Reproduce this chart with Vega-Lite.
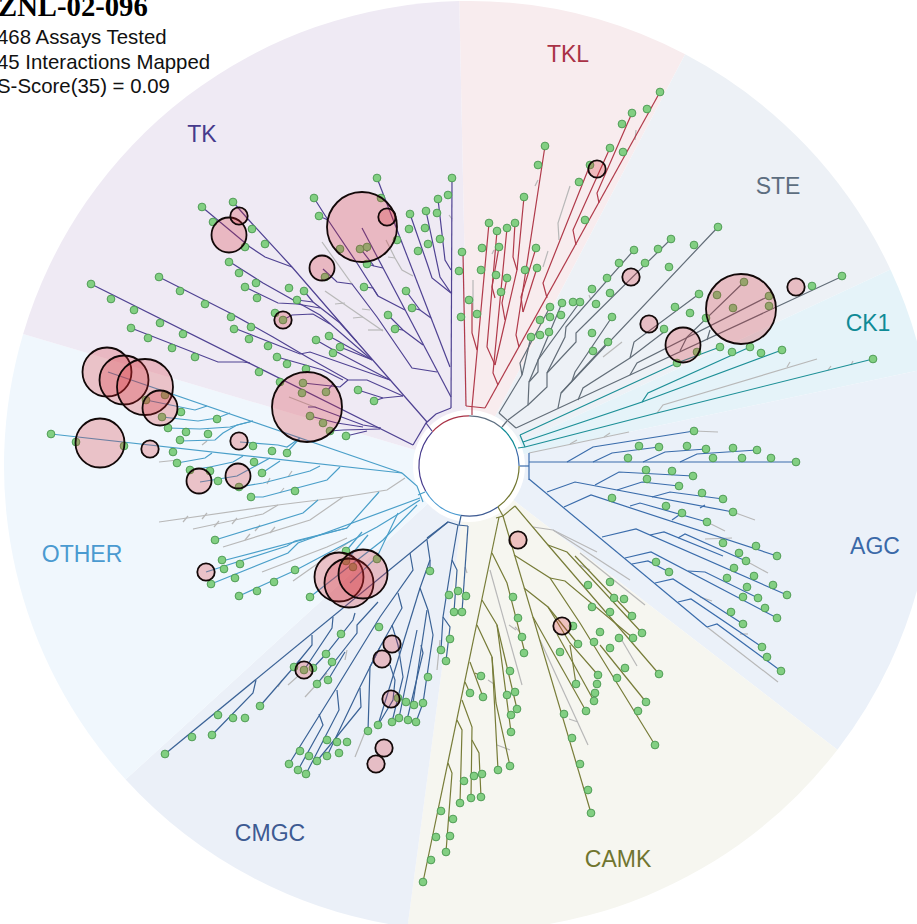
{"$schema":"https://vega.github.io/schema/vega-lite/v6.json","width":917,"height":924,"padding":0,"autosize":{"type":"none"},"background":"white","config":{"view":{"stroke":null},"font":"Liberation Sans"},
"encoding":{"x":{"field":"x","type":"quantitative","axis":null,"scale":{"domain":[0,917],"nice":false,"zero":false}},"y":{"field":"y","type":"quantitative","axis":null,"scale":{"domain":[924,0],"nice":false,"zero":false}}},
"datasets":{
"sectors":[{"x":469,"y":466,"f":"TKL","a0":-1.2,"a1":27.7},{"x":469,"y":466,"f":"STE","a0":27.7,"a1":65},{"x":469,"y":466,"f":"CK1","a0":65,"a1":78},{"x":469,"y":466,"f":"AGC","a0":78,"a1":127.6},{"x":469,"y":466,"f":"CAMK","a0":127.6,"a1":187.6},{"x":469,"y":466,"f":"CMGC","a0":187.6,"a1":227.6},{"x":469,"y":466,"f":"OTHER","a0":227.6,"a1":286.5},{"x":469,"y":466,"f":"TK","a0":286.5,"a1":358.8}],
"ring":[{"x":469,"y":466,"f":"TKL","a0":313,"a1":360},{"x":469,"y":466,"f":"STE","a0":0,"a1":39},{"x":469,"y":466,"f":"CK1","a0":39,"a1":70},{"x":469,"y":466,"f":"AGC","a0":70,"a1":90},{"x":469,"y":466,"f":"CAMK","a0":90,"a1":145},{"x":469,"y":466,"f":"CMGC","a0":145,"a1":189.5},{"x":469,"y":466,"f":"OTHER","a0":189.5,"a1":240},{"x":469,"y":466,"f":"TK","a0":240,"a1":313}],
"labels":[{"x":202,"y":135,"f":"TK","t":"TK"},{"x":568,"y":55,"f":"TKL","t":"TKL"},{"x":778,"y":187,"f":"STE","t":"STE"},{"x":868,"y":324,"f":"CK1","t":"CK1"},{"x":875,"y":547,"f":"AGC","t":"AGC"},{"x":618,"y":860,"f":"CAMK","t":"CAMK"},{"x":270,"y":834,"f":"CMGC","t":"CMGC"},{"x":82,"y":555,"f":"OTHER","t":"OTHER"}],
"header":[{"x":-3,"y":44,"t":"468 Assays Tested"},{"x":-3,"y":68.5,"t":"45 Interactions Mapped"},{"x":-3,"y":93,"t":"S-Score(35) = 0.09"}],
"title":[{"x":-2,"y":16,"t":"ZNL-02-096"}],
"hits":[{"x":362,"y":227,"c":"a"},{"x":387,"y":217,"c":"e"},{"x":322,"y":268,"c":"d"},{"x":283,"y":320,"c":"e"},{"x":307,"y":407,"c":"a"},{"x":229,"y":235,"c":"c"},{"x":239,"y":216,"c":"e"},{"x":107,"y":372,"c":"b"},{"x":124,"y":380,"c":"b"},{"x":145,"y":387,"c":"f"},{"x":160,"y":408,"c":"c"},{"x":100,"y":443,"c":"b"},{"x":150,"y":449,"c":"e"},{"x":239,"y":441,"c":"e"},{"x":199,"y":481,"c":"d"},{"x":238,"y":476,"c":"d"},{"x":206,"y":572,"c":"e"},{"x":339,"y":577,"c":"b"},{"x":349,"y":583,"c":"b"},{"x":363,"y":574,"c":"b"},{"x":304,"y":670,"c":"e"},{"x":392,"y":644,"c":"e"},{"x":382,"y":659,"c":"e"},{"x":391,"y":699,"c":"e"},{"x":384,"y":748,"c":"e"},{"x":376,"y":764,"c":"e"},{"x":518,"y":540,"c":"e"},{"x":562,"y":626,"c":"e"},{"x":631,"y":277,"c":"e"},{"x":649,"y":324,"c":"e"},{"x":683,"y":345,"c":"c"},{"x":741,"y":309,"c":"a"},{"x":796,"y":287,"c":"e"},{"x":597,"y":169,"c":"e"}],
"dots":[{"x":91,"y":284},{"x":111,"y":299},{"x":134,"y":310},{"x":160,"y":323},{"x":183,"y":334},{"x":131,"y":328},{"x":148,"y":338},{"x":172,"y":348},{"x":195,"y":357},{"x":159,"y":277},{"x":180,"y":291},{"x":205,"y":304},{"x":231,"y":317},{"x":234,"y":329},{"x":249,"y":339},{"x":251,"y":327},{"x":268,"y":346},{"x":277,"y":357},{"x":287,"y":364},{"x":306,"y":369},{"x":259,"y":372},{"x":280,"y":382},{"x":303,"y":383},{"x":326,"y":392},{"x":302,"y":393},{"x":310,"y":416},{"x":323,"y":423},{"x":330,"y":431},{"x":346,"y":436},{"x":358,"y":390},{"x":374,"y":401},{"x":229,"y":262},{"x":239,"y":273},{"x":245,"y":287},{"x":256,"y":283},{"x":257,"y":298},{"x":275,"y":313},{"x":283,"y":320},{"x":289,"y":288},{"x":304,"y":291},{"x":297,"y":300},{"x":202,"y":207},{"x":233,"y":202},{"x":213,"y":222},{"x":252,"y":229},{"x":265,"y":244},{"x":245,"y":247},{"x":314,"y":198},{"x":319,"y":216},{"x":377,"y":178},{"x":381,"y":198},{"x":397,"y":240},{"x":360,"y":249},{"x":367,"y":247},{"x":367,"y":264},{"x":340,"y":249},{"x":325,"y":277},{"x":364,"y":287},{"x":388,"y":315},{"x":395,"y":329},{"x":406,"y":291},{"x":412,"y":308},{"x":329,"y":336},{"x":316,"y":340},{"x":333,"y":353},{"x":340,"y":347},{"x":410,"y":214},{"x":409,"y":229},{"x":418,"y":251},{"x":426,"y":211},{"x":425,"y":228},{"x":428,"y":244},{"x":437,"y":213},{"x":438,"y":199},{"x":440,"y":239},{"x":448,"y":195},{"x":452,"y":178},
{"x":165,"y":395},{"x":146,"y":400},{"x":162,"y":417},{"x":181,"y":412},{"x":168,"y":428},{"x":186,"y":432},{"x":217,"y":419},{"x":208,"y":434},{"x":180,"y":440},{"x":173,"y":452},{"x":253,"y":446},{"x":272,"y":451},{"x":287,"y":453},{"x":177,"y":463},{"x":190,"y":470},{"x":210,"y":471},{"x":218,"y":481},{"x":239,"y":487},{"x":254,"y":462},{"x":262,"y":473},{"x":251,"y":497},{"x":295,"y":491},{"x":51,"y":434},{"x":76,"y":442},{"x":124,"y":446},{"x":215,"y":540},{"x":222,"y":560},{"x":224,"y":569},{"x":240,"y":564},{"x":211,"y":584},{"x":235,"y":578},{"x":239,"y":596},{"x":257,"y":591},{"x":274,"y":582},{"x":295,"y":570},{"x":310,"y":597},{"x":346,"y":551},{"x":346,"y":561},{"x":353,"y":567},{"x":377,"y":559},
{"x":165,"y":754},{"x":192,"y":737},{"x":218,"y":715},{"x":212,"y":735},{"x":233,"y":718},{"x":245,"y":718},{"x":260,"y":706},{"x":294,"y":667},{"x":313,"y":668},{"x":304,"y":670},{"x":326,"y":654},{"x":341,"y":634},{"x":332,"y":662},{"x":317,"y":684},{"x":328,"y":680},{"x":379,"y":627},{"x":289,"y":764},{"x":300,"y":751},{"x":298,"y":770},{"x":306,"y":774},{"x":309,"y":756},{"x":317,"y":761},{"x":327,"y":740},{"x":327,"y":756},{"x":337,"y":742},{"x":339,"y":753},{"x":347,"y":742},{"x":368,"y":731},{"x":378,"y":725},{"x":392,"y":722},{"x":399,"y":718},{"x":408,"y":720},{"x":416,"y":722},{"x":398,"y":698},{"x":406,"y":702},{"x":414,"y":705},{"x":423,"y":703},{"x":428,"y":677},{"x":430,"y":571},{"x":449,"y":595},{"x":458,"y":591},{"x":466,"y":596},{"x":454,"y":612},{"x":462,"y":612},{"x":450,"y":639},{"x":441,"y":650},{"x":446,"y":661},
{"x":423,"y":882},{"x":431,"y":860},{"x":436,"y":837},{"x":441,"y":811},{"x":446,"y":852},{"x":450,"y":836},{"x":453,"y":819},{"x":460,"y":803},{"x":464,"y":781},{"x":471,"y":798},{"x":474,"y":776},{"x":481,"y":797},{"x":482,"y":774},{"x":470,"y":693},{"x":483,"y":697},{"x":481,"y":676},{"x":498,"y":770},{"x":510,"y":766},{"x":511,"y":732},{"x":507,"y":695},{"x":511,"y":715},{"x":515,"y":692},{"x":517,"y":709},{"x":510,"y":671},{"x":513,"y":597},{"x":518,"y":618},{"x":522,"y":637},{"x":524,"y":653},{"x":591,"y":813},{"x":588,"y":790},{"x":580,"y":764},{"x":572,"y":738},{"x":564,"y":714},{"x":560,"y":652},{"x":655,"y":745},{"x":638,"y":711},{"x":617,"y":678},{"x":646,"y":702},{"x":625,"y":668},{"x":598,"y":675},{"x":597,"y":684},{"x":595,"y":693},{"x":594,"y":701},{"x":586,"y":711},{"x":576,"y":684},{"x":578,"y":644},{"x":573,"y":626},{"x":659,"y":674},{"x":642,"y":633},{"x":632,"y":616},{"x":624,"y":599},{"x":610,"y":582},{"x":614,"y":598},{"x":588,"y":585},{"x":592,"y":607},{"x":610,"y":612},{"x":600,"y":632},{"x":619,"y":638},{"x":633,"y":638},{"x":594,"y":642},{"x":610,"y":648},
{"x":796,"y":462},{"x":771,"y":458},{"x":742,"y":458},{"x":713,"y":458},{"x":757,"y":450},{"x":733,"y":448},{"x":706,"y":449},{"x":687,"y":446},{"x":694,"y":431},{"x":659,"y":447},{"x":639,"y":446},{"x":628,"y":458},{"x":646,"y":470},{"x":672,"y":471},{"x":693,"y":476},{"x":647,"y":479},{"x":679,"y":486},{"x":702,"y":493},{"x":723,"y":499},{"x":733,"y":512},{"x":612,"y":498},{"x":666,"y":506},{"x":682,"y":513},{"x":707,"y":522},{"x":777,"y":556},{"x":756,"y":546},{"x":723,"y":543},{"x":739,"y":553},{"x":746,"y":561},{"x":734,"y":568},{"x":754,"y":576},{"x":773,"y":585},{"x":787,"y":595},{"x":727,"y":578},{"x":747,"y":587},{"x":743,"y":597},{"x":758,"y":598},{"x":765,"y":608},{"x":777,"y":618},{"x":656,"y":562},{"x":669,"y":572},{"x":731,"y":612},{"x":743,"y":624},{"x":762,"y":647},{"x":767,"y":657},{"x":781,"y":671},
{"x":720,"y":347},{"x":677,"y":363},{"x":697,"y":352},{"x":750,"y":347},{"x":732,"y":352},{"x":782,"y":350},{"x":761,"y":353},{"x":873,"y":359},
{"x":531,"y":337},{"x":540,"y":335},{"x":549,"y":332},{"x":540,"y":320},{"x":550,"y":317},{"x":561,"y":315},{"x":550,"y":307},{"x":562,"y":303},{"x":573,"y":302},{"x":580,"y":302},{"x":592,"y":289},{"x":607,"y":278},{"x":619,"y":263},{"x":634,"y":250},{"x":596,"y":304},{"x":610,"y":293},{"x":645,"y":263},{"x":658,"y":249},{"x":671,"y":239},{"x":694,"y":245},{"x":718,"y":227},{"x":669,"y":267},{"x":612,"y":317},{"x":592,"y":333},{"x":593,"y":351},{"x":608,"y":342},{"x":699,"y":294},{"x":675,"y":307},{"x":690,"y":313},{"x":664,"y":329},{"x":706,"y":318},{"x":717,"y":295},{"x":744,"y":282},{"x":733,"y":308},{"x":769,"y":296},{"x":769,"y":306},{"x":812,"y":286},{"x":842,"y":276},
{"x":660,"y":92},{"x":647,"y":109},{"x":632,"y":113},{"x":622,"y":124},{"x":610,"y":148},{"x":623,"y":152},{"x":590,"y":165},{"x":579,"y":182},{"x":585,"y":220},{"x":545,"y":146},{"x":538,"y":165},{"x":524,"y":197},{"x":515,"y":223},{"x":489,"y":223},{"x":497,"y":231},{"x":507,"y":228},{"x":482,"y":248},{"x":499,"y":247},{"x":536,"y":248},{"x":537,"y":268},{"x":525,"y":270},{"x":507,"y":278},{"x":496,"y":275},{"x":481,"y":270},{"x":462,"y":252},{"x":459,"y":271},{"x":501,"y":292},{"x":469,"y":300},{"x":477,"y":314},{"x":461,"y":317}],
"branches":[
{"f":"G","p":1,"x":352,"y":284},{"f":"G","p":1,"x":322,"y":242},
{"f":"G","p":2,"x":325,"y":291},{"f":"G","p":2,"x":383,"y":331},{"f":"G","p":3,"x":353,"y":318},{"f":"G","p":3,"x":363,"y":317},{"f":"G","p":4,"x":335,"y":304},{"f":"G","p":4,"x":345,"y":303},{"f":"G","p":5,"x":368,"y":330},{"f":"G","p":5,"x":383,"y":330},{"f":"G","p":6,"x":362,"y":309},{"f":"G","p":6,"x":370,"y":310},
{"f":"G","p":7,"x":386,"y":240},{"f":"G","p":7,"x":395,"y":258},{"f":"G","p":7,"x":402,"y":270},{"f":"G","p":7,"x":413,"y":276},{"f":"G","p":8,"x":388,"y":257},{"f":"G","p":8,"x":395,"y":258},{"f":"G","p":9,"x":449,"y":215},{"f":"G","p":9,"x":452,"y":219},{"f":"G","p":10,"x":289,"y":397},{"f":"G","p":10,"x":317,"y":408},
{"f":"G","p":11,"x":405,"y":478},{"f":"G","p":11,"x":387,"y":490},{"f":"G","p":11,"x":343,"y":497},{"f":"G","p":11,"x":278,"y":505},{"f":"G","p":11,"x":159,"y":522},
{"f":"G","p":12,"x":278,"y":505},{"f":"G","p":12,"x":263,"y":514},{"f":"G","p":12,"x":193,"y":529},{"f":"G","p":13,"x":223,"y":547},{"f":"G","p":13,"x":310,"y":520},{"f":"G","p":13,"x":343,"y":497},{"f":"G","p":14,"x":262,"y":572},{"f":"G","p":14,"x":327,"y":547},{"f":"G","p":14,"x":347,"y":538},{"f":"G","p":15,"x":293,"y":581},{"f":"G","p":15,"x":327,"y":557},{"f":"G","p":15,"x":352,"y":540},{"f":"G","p":16,"x":183,"y":522},{"f":"G","p":16,"x":188,"y":516},{"f":"G","p":17,"x":202,"y":519},{"f":"G","p":17,"x":207,"y":513},{"f":"G","p":18,"x":232,"y":524},{"f":"G","p":18,"x":237,"y":518},{"f":"G","p":19,"x":214,"y":527},{"f":"G","p":19,"x":219,"y":521},{"f":"G","p":20,"x":255,"y":531},{"f":"G","p":20,"x":260,"y":525},{"f":"G","p":21,"x":245,"y":540},{"f":"G","p":21,"x":250,"y":534},{"f":"G","p":22,"x":270,"y":533},{"f":"G","p":22,"x":275,"y":527},{"f":"G","p":23,"x":202,"y":445},{"f":"G","p":23,"x":207,"y":441},{"f":"G","p":24,"x":178,"y":460},{"f":"G","p":24,"x":159,"y":462},{"f":"G","p":25,"x":267,"y":484},{"f":"G","p":25,"x":270,"y":478},{"f":"G","p":26,"x":280,"y":493},{"f":"G","p":26,"x":284,"y":488},{"f":"G","p":27,"x":288,"y":477},{"f":"G","p":27,"x":292,"y":471},
{"f":"G","p":28,"x":440,"y":640},{"f":"G","p":28,"x":437,"y":670},{"f":"G","p":29,"x":355,"y":757},{"f":"G","p":29,"x":367,"y":727},{"f":"G","p":30,"x":305,"y":697},{"f":"G","p":30,"x":327,"y":673},{"f":"G","p":31,"x":288,"y":685},{"f":"G","p":31,"x":297,"y":677},{"f":"G","p":32,"x":278,"y":687},{"f":"G","p":32,"x":282,"y":680},{"f":"G","p":33,"x":465,"y":567},{"f":"G","p":33,"x":467,"y":573},{"f":"G","p":34,"x":345,"y":660},{"f":"G","p":34,"x":347,"y":650},
{"f":"G","p":35,"x":490,"y":570},{"f":"G","p":35,"x":522,"y":685},{"f":"G","p":36,"x":540,"y":640},{"f":"G","p":36,"x":588,"y":745},{"f":"G","p":37,"x":533,"y":527},{"f":"G","p":37,"x":553,"y":530},{"f":"G","p":37,"x":597,"y":552},{"f":"G","p":38,"x":553,"y":530},{"f":"G","p":38,"x":630,"y":580},{"f":"G","p":39,"x":580,"y":553},{"f":"G","p":39,"x":645,"y":605},{"f":"G","p":40,"x":620,"y":637},{"f":"G","p":40,"x":637,"y":666},{"f":"G","p":41,"x":497,"y":745},{"f":"G","p":41,"x":510,"y":750},{"f":"G","p":42,"x":569,"y":719},{"f":"G","p":42,"x":578,"y":722},{"f":"G","p":43,"x":509,"y":625},{"f":"G","p":43,"x":516,"y":630},{"f":"G","p":44,"x":488,"y":680},{"f":"G","p":44,"x":494,"y":684},{"f":"G","p":45,"x":515,"y":627},{"f":"G","p":45,"x":520,"y":632},{"f":"G","p":46,"x":580,"y":565},{"f":"G","p":46,"x":590,"y":570},
{"f":"G","p":47,"x":529,"y":453},{"f":"G","p":47,"x":629,"y":432},{"f":"G","p":48,"x":570,"y":444},{"f":"G","p":48,"x":577,"y":440},{"f":"G","p":49,"x":604,"y":437},{"f":"G","p":49,"x":610,"y":433},{"f":"G","p":50,"x":694,"y":431},{"f":"G","p":50,"x":718,"y":432},{"f":"G","p":51,"x":733,"y":512},{"f":"G","p":51,"x":755,"y":520},{"f":"G","p":52,"x":707,"y":522},{"f":"G","p":52,"x":725,"y":531},{"f":"G","p":53,"x":746,"y":561},{"f":"G","p":53,"x":768,"y":573},{"f":"G","p":54,"x":707,"y":627},{"f":"G","p":54,"x":778,"y":682},{"f":"G","p":55,"x":705,"y":539},{"f":"G","p":55,"x":732,"y":538},{"f":"G","p":56,"x":700,"y":597},{"f":"G","p":56,"x":712,"y":601},{"f":"G","p":57,"x":740,"y":634},{"f":"G","p":57,"x":748,"y":634},
{"f":"G","p":58,"x":657,"y":413},{"f":"G","p":58,"x":663,"y":405},{"f":"G","p":58,"x":817,"y":359},{"f":"G","p":59,"x":787,"y":367},{"f":"G","p":59,"x":790,"y":362},{"f":"G","p":60,"x":828,"y":370},{"f":"G","p":60,"x":831,"y":366},{"f":"G","p":61,"x":851,"y":365},{"f":"G","p":61,"x":853,"y":361},
{"f":"G","p":62,"x":603,"y":357},{"f":"G","p":62,"x":622,"y":342},{"f":"G","p":63,"x":591,"y":300},{"f":"G","p":63,"x":589,"y":295},
{"f":"G","p":64,"x":473,"y":280},{"f":"G","p":64,"x":473,"y":310},{"f":"G","p":65,"x":559,"y":240},{"f":"G","p":65,"x":558,"y":223},{"f":"G","p":65,"x":570,"y":186},{"f":"G","p":66,"x":543,"y":267},{"f":"G","p":66,"x":548,"y":251},{"f":"G","p":67,"x":636,"y":130},{"f":"G","p":67,"x":635,"y":140},{"f":"G","p":68,"x":535,"y":186},{"f":"G","p":68,"x":538,"y":180},{"f":"G","p":69,"x":492,"y":254},{"f":"G","p":69,"x":494,"y":250},
{"f":"TK","p":100,"x":413,"y":445},{"f":"TK","p":100,"x":426,"y":423},{"f":"TK","p":100,"x":436,"y":414},{"f":"TK","p":100,"x":451,"y":408},{"f":"TK","p":101,"x":426,"y":423},{"f":"TK","p":101,"x":432,"y":431},
{"f":"TK","p":102,"x":451,"y":408},{"f":"TK","p":102,"x":452,"y":178},{"f":"TK","p":103,"x":450,"y":367},{"f":"TK","p":103,"x":377,"y":178},{"f":"TK","p":104,"x":451,"y":397},{"f":"TK","p":104,"x":362,"y":228},
{"f":"TK","p":105,"x":405,"y":310},{"f":"TK","p":105,"x":378,"y":296},{"f":"TK","p":105,"x":357,"y":263},{"f":"TK","p":105,"x":328,"y":220},{"f":"TK","p":105,"x":314,"y":198},{"f":"TK","p":106,"x":328,"y":220},{"f":"TK","p":106,"x":319,"y":216},{"f":"TK","p":107,"x":423,"y":345},{"f":"TK","p":107,"x":403,"y":330},{"f":"TK","p":107,"x":388,"y":315},{"f":"TK","p":108,"x":403,"y":330},{"f":"TK","p":108,"x":395,"y":329},
{"f":"TK","p":109,"x":383,"y":268},{"f":"TK","p":109,"x":374,"y":266},{"f":"TK","p":109,"x":367,"y":264},{"f":"TK","p":110,"x":374,"y":266},{"f":"TK","p":110,"x":363,"y":252},{"f":"TK","p":110,"x":360,"y":249},{"f":"TK","p":111,"x":367,"y":252},{"f":"TK","p":111,"x":367,"y":247},
{"f":"TK","p":112,"x":437,"y":372},{"f":"TK","p":112,"x":412,"y":368},{"f":"TK","p":112,"x":377,"y":317},{"f":"TK","p":112,"x":352,"y":284},{"f":"TK","p":112,"x":337,"y":282},{"f":"TK","p":112,"x":323,"y":269},{"f":"TK","p":113,"x":364,"y":287},{"f":"TK","p":113,"x":373,"y":288},{"f":"TK","p":113,"x":378,"y":296},
{"f":"TK","p":114,"x":431,"y":318},{"f":"TK","p":114,"x":420,"y":310},{"f":"TK","p":114,"x":412,"y":308},{"f":"TK","p":115,"x":420,"y":310},{"f":"TK","p":115,"x":406,"y":291},
{"f":"TK","p":116,"x":451,"y":293},{"f":"TK","p":116,"x":432,"y":278},{"f":"TK","p":116,"x":427,"y":263},{"f":"TK","p":116,"x":410,"y":214},{"f":"TK","p":117,"x":451,"y":293},{"f":"TK","p":117,"x":440,"y":277},{"f":"TK","p":117,"x":426,"y":211},{"f":"TK","p":118,"x":451,"y":270},{"f":"TK","p":118,"x":445,"y":260},{"f":"TK","p":118,"x":438,"y":199},
{"f":"TK","p":119,"x":427,"y":422},{"f":"TK","p":119,"x":357,"y":342},{"f":"TK","p":119,"x":292,"y":267},{"f":"TK","p":119,"x":247,"y":218},{"f":"TK","p":119,"x":233,"y":202},{"f":"TK","p":120,"x":292,"y":267},{"f":"TK","p":120,"x":265,"y":257},{"f":"TK","p":120,"x":250,"y":247},{"f":"TK","p":120,"x":202,"y":207},
{"f":"TK","p":121,"x":357,"y":342},{"f":"TK","p":121,"x":340,"y":323},{"f":"TK","p":121,"x":313,"y":302},{"f":"TK","p":121,"x":304,"y":291},{"f":"TK","p":122,"x":313,"y":302},{"f":"TK","p":122,"x":297,"y":300},{"f":"TK","p":123,"x":245,"y":287},{"f":"TK","p":123,"x":278,"y":303},{"f":"TK","p":123,"x":297,"y":304},{"f":"TK","p":123,"x":320,"y":308},{"f":"TK","p":124,"x":283,"y":320},{"f":"TK","p":124,"x":292,"y":315},{"f":"TK","p":124,"x":313,"y":314},{"f":"TK","p":124,"x":330,"y":324},
{"f":"TK","p":125,"x":230,"y":262},{"f":"TK","p":125,"x":263,"y":283},{"f":"TK","p":125,"x":320,"y":315},{"f":"TK","p":125,"x":372,"y":360},{"f":"TK","p":126,"x":372,"y":360},{"f":"TK","p":126,"x":329,"y":336},{"f":"TK","p":127,"x":390,"y":380},{"f":"TK","p":127,"x":337,"y":352},{"f":"TK","p":127,"x":316,"y":340},{"f":"TK","p":128,"x":370,"y":359},{"f":"TK","p":128,"x":340,"y":347},
{"f":"TK","p":129,"x":159,"y":277},{"f":"TK","p":129,"x":230,"y":313},{"f":"TK","p":129,"x":273,"y":337},{"f":"TK","p":129,"x":307,"y":357},{"f":"TK","p":129,"x":348,"y":380},{"f":"TK","p":129,"x":367,"y":380},{"f":"TK","p":129,"x":403,"y":396},{"f":"TK","p":130,"x":348,"y":380},{"f":"TK","p":130,"x":340,"y":387},{"f":"TK","p":130,"x":303,"y":383},{"f":"TK","p":131,"x":333,"y":384},{"f":"TK","p":131,"x":326,"y":392},
{"f":"TK","p":132,"x":234,"y":328},{"f":"TK","p":132,"x":300,"y":354},{"f":"TK","p":132,"x":310,"y":352},{"f":"TK","p":132,"x":390,"y":380},{"f":"TK","p":133,"x":277,"y":357},{"f":"TK","p":133,"x":323,"y":370},{"f":"TK","p":133,"x":343,"y":380},{"f":"TK","p":134,"x":403,"y":396},{"f":"TK","p":134,"x":383,"y":398},{"f":"TK","p":134,"x":358,"y":390},{"f":"TK","p":135,"x":374,"y":401},{"f":"TK","p":135,"x":383,"y":398},
{"f":"TK","p":136,"x":413,"y":445},{"f":"TK","p":136,"x":91,"y":284},{"f":"TK","p":137,"x":131,"y":328},{"f":"TK","p":137,"x":218,"y":362},{"f":"TK","p":137,"x":243,"y":362},{"f":"TK","p":137,"x":250,"y":363},{"f":"TK","p":138,"x":381,"y":428},{"f":"TK","p":138,"x":363,"y":425},{"f":"TK","p":138,"x":315,"y":407},{"f":"TK","p":138,"x":308,"y":407},{"f":"TK","p":139,"x":310,"y":416},{"f":"TK","p":139,"x":337,"y":423},{"f":"TK","p":139,"x":363,"y":427},{"f":"TK","p":140,"x":330,"y":431},{"f":"TK","p":140,"x":343,"y":430},{"f":"TK","p":140,"x":380,"y":429},{"f":"TK","p":141,"x":346,"y":436},{"f":"TK","p":141,"x":367,"y":431},
{"f":"OTHER","p":200,"x":402,"y":473},{"f":"OTHER","p":200,"x":417,"y":486},{"f":"OTHER","p":200,"x":423,"y":502},{"f":"OTHER","p":201,"x":418,"y":495},{"f":"OTHER","p":201,"x":425,"y":492},{"f":"OTHER","p":202,"x":402,"y":473},{"f":"OTHER","p":202,"x":108,"y":372},{"f":"OTHER","p":203,"x":402,"y":473},{"f":"OTHER","p":203,"x":51,"y":434},
{"f":"OTHER","p":204,"x":340,"y":467},{"f":"OTHER","p":204,"x":327,"y":480},{"f":"OTHER","p":204,"x":263,"y":497},{"f":"OTHER","p":204,"x":251,"y":497},{"f":"OTHER","p":205,"x":320,"y":466},{"f":"OTHER","p":205,"x":310,"y":471},{"f":"OTHER","p":205,"x":263,"y":483},{"f":"OTHER","p":205,"x":239,"y":487},{"f":"OTHER","p":206,"x":280,"y":461},{"f":"OTHER","p":206,"x":262,"y":473},{"f":"OTHER","p":207,"x":270,"y":458},{"f":"OTHER","p":207,"x":237,"y":476},{"f":"OTHER","p":207,"x":200,"y":482},{"f":"OTHER","p":208,"x":243,"y":456},{"f":"OTHER","p":208,"x":233,"y":462},{"f":"OTHER","p":208,"x":210,"y":467},{"f":"OTHER","p":208,"x":190,"y":470},{"f":"OTHER","p":209,"x":212,"y":453},{"f":"OTHER","p":209,"x":205,"y":458},{"f":"OTHER","p":209,"x":177,"y":463},
{"f":"OTHER","p":210,"x":300,"y":438},{"f":"OTHER","p":210,"x":287,"y":452},{"f":"OTHER","p":211,"x":300,"y":438},{"f":"OTHER","p":211,"x":287,"y":447},{"f":"OTHER","p":211,"x":278,"y":445},{"f":"OTHER","p":211,"x":240,"y":442},{"f":"OTHER","p":212,"x":253,"y":421},{"f":"OTHER","p":212,"x":237,"y":425},{"f":"OTHER","p":212,"x":223,"y":433},{"f":"OTHER","p":212,"x":215,"y":440},{"f":"OTHER","p":212,"x":180,"y":441},{"f":"OTHER","p":213,"x":230,"y":413},{"f":"OTHER","p":213,"x":217,"y":418},{"f":"OTHER","p":213,"x":198,"y":421},{"f":"OTHER","p":213,"x":180,"y":419},{"f":"OTHER","p":213,"x":162,"y":417},{"f":"OTHER","p":214,"x":253,"y":421},{"f":"OTHER","p":214,"x":230,"y":427},{"f":"OTHER","p":214,"x":200,"y":429},{"f":"OTHER","p":214,"x":168,"y":428},{"f":"OTHER","p":215,"x":207,"y":406},{"f":"OTHER","p":215,"x":195,"y":410},{"f":"OTHER","p":215,"x":146,"y":400},
{"f":"OTHER","p":216,"x":211,"y":584},{"f":"OTHER","p":216,"x":288,"y":553},{"f":"OTHER","p":216,"x":298,"y":543},{"f":"OTHER","p":216,"x":420,"y":498},{"f":"OTHER","p":217,"x":222,"y":561},{"f":"OTHER","p":217,"x":347,"y":528},{"f":"OTHER","p":217,"x":379,"y":492},{"f":"OTHER","p":218,"x":206,"y":572},{"f":"OTHER","p":218,"x":287,"y":546},{"f":"OTHER","p":218,"x":295,"y":541},{"f":"OTHER","p":218,"x":347,"y":528},{"f":"OTHER","p":219,"x":215,"y":540},{"f":"OTHER","p":219,"x":303,"y":513},{"f":"OTHER","p":219,"x":318,"y":500},{"f":"OTHER","p":220,"x":239,"y":596},{"f":"OTHER","p":220,"x":296,"y":570},{"f":"OTHER","p":220,"x":347,"y":543},{"f":"OTHER","p":220,"x":377,"y":527},{"f":"OTHER","p":220,"x":400,"y":513},{"f":"OTHER","p":220,"x":420,"y":500},{"f":"OTHER","p":221,"x":310,"y":597},{"f":"OTHER","p":221,"x":383,"y":540},{"f":"OTHER","p":221,"x":417,"y":505},{"f":"OTHER","p":222,"x":350,"y":583},{"f":"OTHER","p":222,"x":377,"y":557},{"f":"OTHER","p":222,"x":398,"y":513},{"f":"OTHER","p":223,"x":346,"y":551},{"f":"OTHER","p":223,"x":362,"y":532},{"f":"OTHER","p":224,"x":346,"y":561},{"f":"OTHER","p":224,"x":368,"y":535},
{"f":"CMGC","p":300,"x":427,"y":538},{"f":"CMGC","p":300,"x":448,"y":522},{"f":"CMGC","p":300,"x":458,"y":525},{"f":"CMGC","p":300,"x":468,"y":526},{"f":"CMGC","p":301,"x":461,"y":516},{"f":"CMGC","p":301,"x":459,"y":525},{"f":"CMGC","p":302,"x":448,"y":522},{"f":"CMGC","p":302,"x":165,"y":754},
{"f":"CMGC","p":303,"x":333,"y":617},{"f":"CMGC","p":303,"x":332,"y":628},{"f":"CMGC","p":303,"x":304,"y":670},{"f":"CMGC","p":304,"x":312,"y":635},{"f":"CMGC","p":304,"x":312,"y":645},{"f":"CMGC","p":304,"x":294,"y":667},{"f":"CMGC","p":305,"x":256,"y":680},{"f":"CMGC","p":305,"x":253,"y":693},{"f":"CMGC","p":305,"x":212,"y":735},{"f":"CMGC","p":306,"x":300,"y":660},{"f":"CMGC","p":306,"x":260,"y":706},{"f":"CMGC","p":307,"x":355,"y":613},{"f":"CMGC","p":307,"x":353,"y":620},{"f":"CMGC","p":307,"x":326,"y":654},{"f":"CMGC","p":307,"x":313,"y":668},{"f":"CMGC","p":308,"x":378,"y":602},{"f":"CMGC","p":308,"x":357,"y":625},{"f":"CMGC","p":308,"x":357,"y":633},{"f":"CMGC","p":308,"x":317,"y":684},{"f":"CMGC","p":309,"x":345,"y":652},{"f":"CMGC","p":309,"x":328,"y":680},
{"f":"CMGC","p":310,"x":410,"y":553},{"f":"CMGC","p":310,"x":413,"y":570},{"f":"CMGC","p":310,"x":380,"y":617},{"f":"CMGC","p":310,"x":337,"y":687},{"f":"CMGC","p":310,"x":289,"y":764},{"f":"CMGC","p":311,"x":319,"y":714},{"f":"CMGC","p":311,"x":323,"y":725},{"f":"CMGC","p":311,"x":298,"y":770},{"f":"CMGC","p":312,"x":337,"y":690},{"f":"CMGC","p":312,"x":339,"y":710},{"f":"CMGC","p":312,"x":306,"y":774},{"f":"CMGC","p":313,"x":398,"y":593},{"f":"CMGC","p":313,"x":402,"y":608},{"f":"CMGC","p":313,"x":380,"y":647},{"f":"CMGC","p":313,"x":360,"y":687},{"f":"CMGC","p":313,"x":327,"y":756},{"f":"CMGC","p":314,"x":360,"y":688},{"f":"CMGC","p":314,"x":361,"y":707},{"f":"CMGC","p":314,"x":317,"y":761},{"f":"CMGC","p":315,"x":380,"y":647},{"f":"CMGC","p":315,"x":370,"y":667},{"f":"CMGC","p":315,"x":368,"y":731},{"f":"CMGC","p":316,"x":392,"y":625},{"f":"CMGC","p":316,"x":398,"y":645},{"f":"CMGC","p":316,"x":403,"y":677},{"f":"CMGC","p":316,"x":392,"y":722},{"f":"CMGC","p":317,"x":390,"y":665},{"f":"CMGC","p":317,"x":395,"y":680},{"f":"CMGC","p":317,"x":393,"y":700},{"f":"CMGC","p":317,"x":378,"y":725},
{"f":"CMGC","p":318,"x":427,"y":540},{"f":"CMGC","p":318,"x":430,"y":560},{"f":"CMGC","p":318,"x":430,"y":571},{"f":"CMGC","p":319,"x":430,"y":560},{"f":"CMGC","p":319,"x":420,"y":588},{"f":"CMGC","p":319,"x":428,"y":610},{"f":"CMGC","p":319,"x":433,"y":635},{"f":"CMGC","p":319,"x":423,"y":703},{"f":"CMGC","p":319,"x":416,"y":722},{"f":"CMGC","p":320,"x":420,"y":588},{"f":"CMGC","p":320,"x":378,"y":725},{"f":"CMGC","p":321,"x":427,"y":610},{"f":"CMGC","p":321,"x":413,"y":703},{"f":"CMGC","p":322,"x":421,"y":645},{"f":"CMGC","p":322,"x":423,"y":653},{"f":"CMGC","p":322,"x":407,"y":720},{"f":"CMGC","p":323,"x":417,"y":630},{"f":"CMGC","p":323,"x":399,"y":718},
{"f":"CMGC","p":324,"x":458,"y":525},{"f":"CMGC","p":324,"x":452,"y":560},{"f":"CMGC","p":324,"x":443,"y":617},{"f":"CMGC","p":324,"x":441,"y":650},{"f":"CMGC","p":325,"x":452,"y":560},{"f":"CMGC","p":325,"x":457,"y":570},{"f":"CMGC","p":325,"x":454,"y":612},{"f":"CMGC","p":326,"x":443,"y":617},{"f":"CMGC","p":326,"x":450,"y":627},{"f":"CMGC","p":326,"x":446,"y":661},{"f":"CMGC","p":327,"x":468,"y":526},{"f":"CMGC","p":327,"x":462,"y":612},
{"f":"CAMK","p":400,"x":496,"y":518},{"f":"CAMK","p":400,"x":503,"y":516},{"f":"CAMK","p":400,"x":515,"y":506},{"f":"CAMK","p":401,"x":498,"y":507},{"f":"CAMK","p":401,"x":503,"y":516},{"f":"CAMK","p":402,"x":499,"y":517},{"f":"CAMK","p":402,"x":423,"y":882},{"f":"CAMK","p":403,"x":503,"y":516},{"f":"CAMK","p":403,"x":591,"y":813},{"f":"CAMK","p":404,"x":514,"y":555},{"f":"CAMK","p":404,"x":550,"y":578},{"f":"CAMK","p":404,"x":580,"y":623},{"f":"CAMK","p":404,"x":655,"y":745},{"f":"CAMK","p":405,"x":515,"y":506},{"f":"CAMK","p":405,"x":548,"y":545},{"f":"CAMK","p":405,"x":659,"y":674},{"f":"CAMK","p":406,"x":548,"y":545},{"f":"CAMK","p":406,"x":567,"y":552},{"f":"CAMK","p":406,"x":642,"y":633},{"f":"CAMK","p":407,"x":575,"y":556},{"f":"CAMK","p":407,"x":632,"y":616},{"f":"CAMK","p":408,"x":550,"y":578},{"f":"CAMK","p":408,"x":565,"y":581},{"f":"CAMK","p":408,"x":633,"y":638},{"f":"CAMK","p":409,"x":524,"y":588},{"f":"CAMK","p":409,"x":548,"y":607},{"f":"CAMK","p":409,"x":570,"y":643},{"f":"CAMK","p":409,"x":598,"y":675},{"f":"CAMK","p":410,"x":533,"y":617},{"f":"CAMK","p":410,"x":586,"y":711},{"f":"CAMK","p":411,"x":557,"y":634},{"f":"CAMK","p":411,"x":594,"y":701},{"f":"CAMK","p":412,"x":548,"y":607},{"f":"CAMK","p":412,"x":578,"y":644},{"f":"CAMK","p":413,"x":600,"y":645},{"f":"CAMK","p":413,"x":646,"y":702},{"f":"CAMK","p":414,"x":570,"y":645},{"f":"CAMK","p":414,"x":576,"y":684},
{"f":"CAMK","p":415,"x":492,"y":553},{"f":"CAMK","p":415,"x":507,"y":583},{"f":"CAMK","p":415,"x":525,"y":653},{"f":"CAMK","p":416,"x":482,"y":600},{"f":"CAMK","p":416,"x":497,"y":625},{"f":"CAMK","p":416,"x":511,"y":732},{"f":"CAMK","p":417,"x":497,"y":625},{"f":"CAMK","p":417,"x":507,"y":667},{"f":"CAMK","p":417,"x":517,"y":709},{"f":"CAMK","p":418,"x":477,"y":625},{"f":"CAMK","p":418,"x":492,"y":657},{"f":"CAMK","p":418,"x":498,"y":770},{"f":"CAMK","p":419,"x":492,"y":657},{"f":"CAMK","p":419,"x":496,"y":703},{"f":"CAMK","p":419,"x":510,"y":766},{"f":"CAMK","p":420,"x":470,"y":662},{"f":"CAMK","p":420,"x":483,"y":697},{"f":"CAMK","p":421,"x":475,"y":673},{"f":"CAMK","p":421,"x":481,"y":676},{"f":"CAMK","p":422,"x":465,"y":682},{"f":"CAMK","p":422,"x":470,"y":693},{"f":"CAMK","p":423,"x":462,"y":700},{"f":"CAMK","p":423,"x":472,"y":727},{"f":"CAMK","p":423,"x":471,"y":798},{"f":"CAMK","p":424,"x":472,"y":740},{"f":"CAMK","p":424,"x":479,"y":753},{"f":"CAMK","p":424,"x":481,"y":797},{"f":"CAMK","p":425,"x":457,"y":720},{"f":"CAMK","p":425,"x":462,"y":730},{"f":"CAMK","p":425,"x":460,"y":803},{"f":"CAMK","p":426,"x":448,"y":763},{"f":"CAMK","p":426,"x":452,"y":773},{"f":"CAMK","p":426,"x":446,"y":852},
{"f":"AGC","p":500,"x":520,"y":466},{"f":"AGC","p":500,"x":529,"y":466},{"f":"AGC","p":501,"x":529,"y":453},{"f":"AGC","p":501,"x":529,"y":480},{"f":"AGC","p":502,"x":529,"y":462},{"f":"AGC","p":502,"x":796,"y":462},{"f":"AGC","p":503,"x":567,"y":462},{"f":"AGC","p":503,"x":593,"y":447},{"f":"AGC","p":503,"x":694,"y":431},{"f":"AGC","p":504,"x":593,"y":462},{"f":"AGC","p":504,"x":612,"y":453},{"f":"AGC","p":504,"x":659,"y":447},{"f":"AGC","p":505,"x":643,"y":462},{"f":"AGC","p":505,"x":665,"y":452},{"f":"AGC","p":505,"x":706,"y":449},{"f":"AGC","p":506,"x":680,"y":462},{"f":"AGC","p":506,"x":697,"y":454},{"f":"AGC","p":506,"x":757,"y":450},
{"f":"AGC","p":507,"x":529,"y":479},{"f":"AGC","p":507,"x":707,"y":627},{"f":"AGC","p":508,"x":547,"y":492},{"f":"AGC","p":508,"x":575,"y":482},{"f":"AGC","p":508,"x":733,"y":512},{"f":"AGC","p":509,"x":595,"y":485},{"f":"AGC","p":509,"x":619,"y":472},{"f":"AGC","p":509,"x":693,"y":476},{"f":"AGC","p":510,"x":617,"y":490},{"f":"AGC","p":510,"x":642,"y":482},{"f":"AGC","p":510,"x":679,"y":486},{"f":"AGC","p":511,"x":652,"y":497},{"f":"AGC","p":511,"x":670,"y":492},{"f":"AGC","p":511,"x":723,"y":499},{"f":"AGC","p":512,"x":564,"y":507},{"f":"AGC","p":512,"x":591,"y":495},{"f":"AGC","p":512,"x":777,"y":556},{"f":"AGC","p":513,"x":630,"y":506},{"f":"AGC","p":513,"x":640,"y":503},{"f":"AGC","p":513,"x":707,"y":522},{"f":"AGC","p":514,"x":672,"y":520},{"f":"AGC","p":514,"x":682,"y":513},
{"f":"AGC","p":515,"x":602,"y":537},{"f":"AGC","p":515,"x":636,"y":529},{"f":"AGC","p":515,"x":787,"y":595},{"f":"AGC","p":516,"x":650,"y":535},{"f":"AGC","p":516,"x":664,"y":532},{"f":"AGC","p":516,"x":723,"y":556},{"f":"AGC","p":517,"x":678,"y":538},{"f":"AGC","p":517,"x":685,"y":534},{"f":"AGC","p":517,"x":746,"y":561},{"f":"AGC","p":518,"x":625,"y":558},{"f":"AGC","p":518,"x":651,"y":552},{"f":"AGC","p":518,"x":777,"y":618},{"f":"AGC","p":519,"x":688,"y":571},{"f":"AGC","p":519,"x":705,"y":572},{"f":"AGC","p":519,"x":758,"y":598},{"f":"AGC","p":520,"x":632,"y":564},{"f":"AGC","p":520,"x":648,"y":561},{"f":"AGC","p":520,"x":669,"y":572},{"f":"AGC","p":521,"x":655,"y":583},{"f":"AGC","p":521,"x":673,"y":579},{"f":"AGC","p":521,"x":743,"y":624},{"f":"AGC","p":522,"x":678,"y":602},{"f":"AGC","p":522,"x":691,"y":599},{"f":"AGC","p":522,"x":762,"y":647},{"f":"AGC","p":523,"x":707,"y":627},{"f":"AGC","p":523,"x":717,"y":624},{"f":"AGC","p":523,"x":781,"y":671},{"f":"AGC","p":524,"x":700,"y":508},{"f":"AGC","p":524,"x":705,"y":505},
{"f":"CK1","p":600,"x":518,"y":448},{"f":"CK1","p":600,"x":525,"y":447},{"f":"CK1","p":601,"x":520,"y":435},{"f":"CK1","p":601,"x":525,"y":447},{"f":"CK1","p":602,"x":520,"y":435},{"f":"CK1","p":602,"x":677,"y":363},{"f":"CK1","p":602,"x":720,"y":347},{"f":"CK1","p":603,"x":523,"y":442},{"f":"CK1","p":603,"x":642,"y":402},{"f":"CK1","p":603,"x":648,"y":393},{"f":"CK1","p":603,"x":750,"y":347},{"f":"CK1","p":604,"x":642,"y":402},{"f":"CK1","p":604,"x":782,"y":350},{"f":"CK1","p":605,"x":525,"y":447},{"f":"CK1","p":605,"x":657,"y":413},{"f":"CK1","p":605,"x":873,"y":359},
{"f":"STE","p":700,"x":502,"y":427},{"f":"STE","p":700,"x":507,"y":421},{"f":"STE","p":701,"x":499,"y":413},{"f":"STE","p":701,"x":516,"y":428},{"f":"STE","p":702,"x":516,"y":428},{"f":"STE","p":702,"x":630,"y":375},{"f":"STE","p":702,"x":843,"y":276},{"f":"STE","p":703,"x":630,"y":375},{"f":"STE","p":703,"x":637,"y":363},{"f":"STE","p":703,"x":769,"y":296},{"f":"STE","p":704,"x":578,"y":400},{"f":"STE","p":704,"x":583,"y":388},{"f":"STE","p":704,"x":630,"y":358},{"f":"STE","p":704,"x":664,"y":332},{"f":"STE","p":705,"x":630,"y":358},{"f":"STE","p":705,"x":634,"y":342},{"f":"STE","p":705,"x":699,"y":294},{"f":"STE","p":706,"x":680,"y":351},{"f":"STE","p":706,"x":687,"y":337},{"f":"STE","p":706,"x":744,"y":282},{"f":"STE","p":707,"x":707,"y":340},{"f":"STE","p":707,"x":710,"y":330},{"f":"STE","p":708,"x":558,"y":408},{"f":"STE","p":708,"x":561,"y":393},{"f":"STE","p":708,"x":718,"y":227},
{"f":"STE","p":709,"x":499,"y":413},{"f":"STE","p":709,"x":522,"y":375},{"f":"STE","p":709,"x":520,"y":363},{"f":"STE","p":709,"x":550,"y":307},{"f":"STE","p":710,"x":522,"y":375},{"f":"STE","p":710,"x":531,"y":337},{"f":"STE","p":711,"x":508,"y":420},{"f":"STE","p":711,"x":528,"y":405},{"f":"STE","p":711,"x":529,"y":382},{"f":"STE","p":711,"x":562,"y":303},{"f":"STE","p":712,"x":529,"y":382},{"f":"STE","p":712,"x":538,"y":372},{"f":"STE","p":712,"x":538,"y":360},{"f":"STE","p":712,"x":580,"y":302},{"f":"STE","p":713,"x":528,"y":405},{"f":"STE","p":713,"x":547,"y":387},{"f":"STE","p":713,"x":547,"y":373},{"f":"STE","p":713,"x":565,"y":337},{"f":"STE","p":713,"x":566,"y":327},{"f":"STE","p":713,"x":634,"y":250},{"f":"STE","p":714,"x":547,"y":373},{"f":"STE","p":714,"x":576,"y":342},{"f":"STE","p":714,"x":576,"y":333},{"f":"STE","p":714,"x":671,"y":239},{"f":"STE","p":715,"x":561,"y":393},{"f":"STE","p":715,"x":608,"y":342},{"f":"STE","p":716,"x":572,"y":381},{"f":"STE","p":716,"x":575,"y":372},{"f":"STE","p":716,"x":612,"y":317},
{"f":"TKL","p":800,"x":466,"y":406},{"f":"TKL","p":800,"x":485,"y":408},{"f":"TKL","p":801,"x":472,"y":415},{"f":"TKL","p":801,"x":472,"y":407},{"f":"TKL","p":802,"x":466,"y":406},{"f":"TKL","p":802,"x":463,"y":253},{"f":"TKL","p":803,"x":472,"y":407},{"f":"TKL","p":803,"x":489,"y":223},{"f":"TKL","p":804,"x":477,"y":350},{"f":"TKL","p":804,"x":472,"y":333},{"f":"TKL","p":804,"x":472,"y":303},{"f":"TKL","p":805,"x":485,"y":408},{"f":"TKL","p":805,"x":660,"y":92},{"f":"TKL","p":806,"x":498,"y":385},{"f":"TKL","p":806,"x":493,"y":373},{"f":"TKL","p":806,"x":507,"y":228},{"f":"TKL","p":807,"x":495,"y":365},{"f":"TKL","p":807,"x":487,"y":347},{"f":"TKL","p":807,"x":497,"y":231},{"f":"TKL","p":808,"x":495,"y":365},{"f":"TKL","p":808,"x":517,"y":270},{"f":"TKL","p":808,"x":524,"y":197},{"f":"TKL","p":809,"x":517,"y":270},{"f":"TKL","p":809,"x":513,"y":257},{"f":"TKL","p":809,"x":515,"y":223},{"f":"TKL","p":810,"x":519,"y":347},{"f":"TKL","p":810,"x":516,"y":335},{"f":"TKL","p":810,"x":545,"y":146},{"f":"TKL","p":811,"x":523,"y":312},{"f":"TKL","p":811,"x":521,"y":297},{"f":"TKL","p":811,"x":536,"y":248},{"f":"TKL","p":812,"x":547,"y":298},{"f":"TKL","p":812,"x":543,"y":283},{"f":"TKL","p":812,"x":590,"y":165},{"f":"TKL","p":813,"x":576,"y":245},{"f":"TKL","p":813,"x":573,"y":230},{"f":"TKL","p":813,"x":610,"y":148},{"f":"TKL","p":814,"x":599,"y":203},{"f":"TKL","p":814,"x":597,"y":193},{"f":"TKL","p":814,"x":632,"y":113},{"f":"TKL","p":815,"x":505,"y":320},{"f":"TKL","p":815,"x":502,"y":303},{"f":"TKL","p":815,"x":507,"y":278},{"f":"TKL","p":816,"x":495,"y":298},{"f":"TKL","p":816,"x":492,"y":287},{"f":"TKL","p":816,"x":499,"y":247},{"f":"TKL","p":817,"x":523,"y":312},{"f":"TKL","p":817,"x":537,"y":268}
]},
"layer":[
{"data":{"name":"sectors"},"mark":{"type":"arc","outerRadius":465,"innerRadius":0},"encoding":{"theta":{"field":"a0","type":"quantitative","scale":{"domain":[0,360],"range":[0,6.283185]}},"theta2":{"field":"a1"},"fill":{"field":"f","type":"nominal","legend":null,"scale":{"domain":["TK","TKL","STE","CK1","AGC","CAMK","CMGC","OTHER"],"range":["#efeaf4","#f8ecee","#edf1f6","#e5f3f9","#ebf1f9","#f6f6f0","#ebf0f8","#f0f7fd"]}}}},
{"data":{"values":[{"x":469,"y":466}]},"mark":{"type":"arc","outerRadius":56,"innerRadius":0,"theta":0,"theta2":6.2832,"fill":"white"}},
{"data":{"name":"branches"},"transform":[{"window":[{"op":"row_number","as":"o"}]}],"mark":{"type":"line","strokeWidth":1.2,"interpolate":"linear"},"encoding":{"stroke":{"field":"f","type":"nominal","legend":null,"scale":{"domain":["TK","TKL","STE","CK1","AGC","CAMK","CMGC","OTHER","G"],"range":["#4f4292","#b03a4a","#626d78","#1c8f96","#3a6cab","#777c38","#3a6296","#4a9fc9","#b8b8b8"]}},"detail":{"field":"p"},"order":{"field":"o"}}},
{"data":{"name":"ring"},"mark":{"type":"arc","outerRadius":50.7,"innerRadius":49.5},"encoding":{"theta":{"field":"a0","type":"quantitative","scale":{"domain":[0,360],"range":[0,6.283185]}},"theta2":{"field":"a1"},"color":{"field":"f","type":"nominal","legend":null,"scale":{"domain":["TK","TKL","STE","CK1","AGC","CAMK","CMGC","OTHER"],"range":["#463a8c","#a93246","#5d6e80","#0f8a96","#3a69a8","#70752f","#3d5a92","#4a9ad0"]}}}},
{"data":{"name":"dots"},"mark":{"type":"point","filled":true,"size":60,"fill":"#82cf82","stroke":"#4f9c55","strokeWidth":1,"opacity":1}},
{"data":{"name":"hits"},"mark":{"type":"point","filled":true,"fill":"#d8232a","fillOpacity":0.25,"stroke":"#120808","strokeOpacity":1,"strokeWidth":1.8,"opacity":1},"encoding":{"size":{"field":"c","type":"nominal","legend":null,"scale":{"type":"ordinal","domain":["a","f","b","c","d","e"],"range":[4900,3136,2401,1225,625,303]}}}},
{"data":{"name":"labels"},"mark":{"type":"text","fontSize":23,"align":"center","baseline":"middle","font":"Liberation Sans"},"encoding":{"text":{"field":"t"},"color":{"field":"f","type":"nominal","legend":null}}},
{"data":{"name":"header"},"mark":{"type":"text","fontSize":20.4,"align":"left","baseline":"alphabetic","font":"Liberation Sans","fill":"#111"},"encoding":{"text":{"field":"t"}}},
{"data":{"name":"title"},"mark":{"type":"text","fontSize":28.7,"fontWeight":"bold","align":"left","baseline":"alphabetic","font":"Liberation Serif","fill":"#000"},"encoding":{"text":{"field":"t"}}}
]}
